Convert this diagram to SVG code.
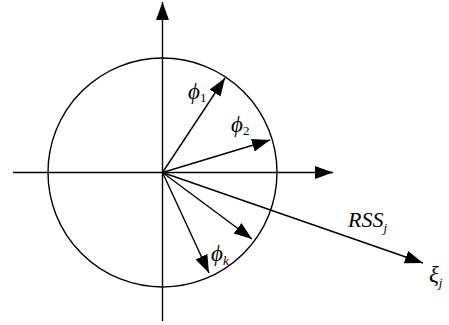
<svg xmlns="http://www.w3.org/2000/svg" width="449" height="325" viewBox="0 0 449 325">
<style>
.ln{stroke:#000;stroke-width:1.4;fill:none}
.t{font-family:"Liberation Serif","Times New Roman","DejaVu Serif",serif;font-style:italic;fill:#000}
.n{font-style:normal}
</style>
<defs>
<marker id="ah" markerUnits="userSpaceOnUse" markerWidth="19" markerHeight="14" refX="18" refY="6.5" orient="auto">
<path d="M0,0 L18,6.5 L0,13 z" fill="#000"/>
</marker>
</defs>
<g id="circle"><circle class="ln" cx="162.5" cy="172.5" r="114.5"/></g>
<g id="connectors">
<line class="ln" x1="162.5" y1="321" x2="162.5" y2="2" marker-end="url(#ah)"/>
<line class="ln" x1="13" y1="172.5" x2="333" y2="172.5" marker-end="url(#ah)"/>
<line class="ln" x1="162.5" y1="172.5" x2="225" y2="78" marker-end="url(#ah)"/>
<line class="ln" x1="162.5" y1="172.5" x2="270" y2="140" marker-end="url(#ah)"/>
<line class="ln" x1="162.5" y1="172.5" x2="252" y2="239" marker-end="url(#ah)"/>
<line class="ln" x1="162.5" y1="172.5" x2="209" y2="273" marker-end="url(#ah)"/>
<line class="ln" x1="162.5" y1="172.5" x2="423" y2="263" marker-end="url(#ah)"/>
</g>
<g id="labels">
<text class="t" x="188" y="99" font-size="23">ϕ<tspan class="n" font-size="13" dy="3">1</tspan></text>
<text class="t" x="231" y="132" font-size="23">ϕ<tspan class="n" font-size="13" dy="3">2</tspan></text>
<text class="t" x="211" y="261" font-size="23">ϕ<tspan font-size="13" dy="4">k</tspan></text>
<text class="t" x="348" y="227" font-size="22">RSS<tspan font-size="13" dy="5">j</tspan></text>
<text class="t" x="429" y="282" font-size="23">ξ<tspan font-size="13" dy="5">j</tspan></text>
</g>
</svg>
